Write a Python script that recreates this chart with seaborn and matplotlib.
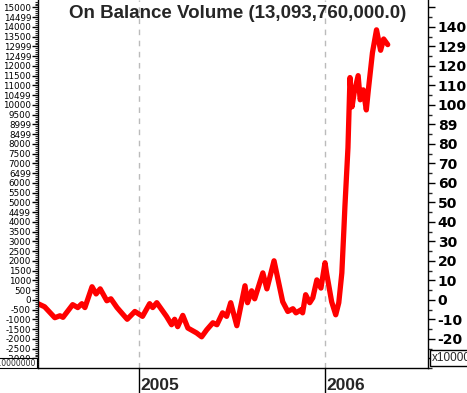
import pandas as pd
import numpy as np
import matplotlib
matplotlib.use("Agg")
import matplotlib.pyplot as plt
import matplotlib.dates as mdates
import matplotlib.transforms as mtransforms
import seaborn as sns

# data (OBV in units of 100,000,000)
dates = ["2004-06-17", "2004-06-30", "2004-07-20", "2004-07-30", "2004-08-05", "2004-08-24",
         "2004-09-03", "2004-09-11", "2004-09-17", "2004-10-01", "2004-10-09", "2004-10-17",
         "2004-10-30", "2004-11-07", "2004-11-19", "2004-12-09", "2004-12-24", "2005-01-08",
         "2005-01-22", "2005-01-28", "2005-02-05", "2005-02-24", "2005-03-06", "2005-03-12",
         "2005-03-18", "2005-03-28", "2005-04-07", "2005-04-24", "2005-05-04", "2005-05-14",
         "2005-05-26", "2005-06-03", "2005-06-14", "2005-06-22", "2005-06-30", "2005-07-12",
         "2005-07-28", "2005-08-02", "2005-08-10", "2005-08-16", "2005-09-01", "2005-09-09",
         "2005-09-23", "2005-10-10", "2005-10-20", "2005-10-30", "2005-11-05", "2005-11-16",
         "2005-11-18", "2005-11-24", "2005-12-02", "2005-12-08", "2005-12-16", "2005-12-24",
         "2006-01-01", "2006-01-04", "2006-01-14", "2006-01-22", "2006-01-28", "2006-02-03",
         "2006-02-07", "2006-02-09", "2006-02-15", "2006-02-17", "2006-02-19", "2006-02-23",
         "2006-02-27", "2006-03-07", "2006-03-11", "2006-03-17", "2006-03-23", "2006-03-27",
         "2006-04-04", "2006-04-12", "2006-04-20", "2006-04-26", "2006-05-04"]
obv = [-2, -3.6, -9.2, -8.2, -9, -2.5,
       -4, -2, -4, 6.7, 3, 5.6,
       -0.5, 0.5, -4, -10, -6, -8.5,
       -2, -4, -1.5, -8.5, -12.8, -10,
       -13.8, -8, -14.5, -17, -19, -15.4,
       -11.8, -12.8, -6.7, -8.5, -1.5, -13.3,
       7.2, -1.5, 4.6, 0.5, 13.8, 5.6,
       20, -1, -6, -4.6, -6.7, -5,
       -6.7, 2.6, -1.5, 1, 10.2, 6,
       19, 13.8, -1, -7.7, -1.5, 13.8,
       36, 47.7, 78, 96, 114, 99,
       106, 115, 102.6, 107.7, 97.4, 107.7,
       126.7, 138.5, 128, 133.8, 130.9]

right_ticks = [-20, -10, 0, 10, 20, 30, 40, 50, 60, 70, 80, 90, 100, 110, 120, 130, 140]
right_labels = ["-20", "-10", "0", "10", "20", "30", "40", "50", "60", "70", "80", "89",
                "100", "110", "120", "129", "140"]
left_ticks = list(range(-3000, 15001, 500))
left_labels = ["-3000", "-2500", "-2000", "-1500", "-1000", "-500", "0", "500", "1000",
               "1500", "2000", "2500", "3000", "3500", "4000", "4499", "5000", "5500",
               "6000", "6499", "7000", "7500", "8000", "8499", "8999", "9500", "10000",
               "10499", "11000", "11500", "12000", "12499", "12999", "13500", "14000",
               "14499", "15000"]
years = ["2005", "2006"]
title = "On Balance Volume (13,093,760,000.0)"

df = pd.DataFrame({"date": pd.to_datetime(dates), "obv": obv})

sns.set_style("white")
plt.rcParams["font.family"] = ["DejaVu Sans"]

fig = plt.figure(figsize=(4.67, 3.93), dpi=100)
ax = fig.add_axes([38/467, 25/393, 390/467, 368/393])
ax2 = ax.twinx()   # left hand scale lives here

sns.lineplot(data=df, x="date", y="obv", ax=ax, color="red", linewidth=3.8,
             estimator=None, sort=False)

ax.set_xlim(pd.Timestamp("2004-06-17"), pd.Timestamp("2006-07-22"))
ax.set_ylim(-34.9, 153.8)
ax.set_xlabel("")
ax.set_ylabel("")

for s in ["left", "right", "bottom"]:
    ax.spines[s].set_visible(True)
    ax.spines[s].set_color("black")
    ax.spines[s].set_linewidth(1)
ax.spines["top"].set_visible(False)

# right hand scale
ax.yaxis.tick_right()
ax.set_yticks(right_ticks + [-30, 150])
ax.set_yticklabels(right_labels + ["", ""], fontweight="bold", fontsize=10)
ax.set_yticks(np.arange(-35, 155, 5), minor=True)
ax.tick_params(axis="y", which="major", direction="out", length=5, width=1, pad=2,
               colors="black", left=False, right=True, labelleft=False, labelright=True)
ax.tick_params(axis="y", which="minor", direction="out", length=3, width=1,
               left=False, right=True)

# months along the bottom
ax.xaxis.set_major_locator(mdates.MonthLocator())
ax.xaxis.set_major_formatter(plt.NullFormatter())
ax.tick_params(axis="x", which="major", direction="out", length=7, width=1, colors="black")

# left hand scale
ax2.set_ylim(-3490, 15380)
ax2.set_yticks(left_ticks)
ax2.set_yticklabels(left_labels, fontsize=6.3)
ax2.set_yticks(np.arange(-3400, 15380, 100), minor=True)
ax2.tick_params(axis="y", which="major", direction="out", length=4, width=1, pad=1,
                colors="black", left=True, right=False, labelleft=True, labelright=False)
ax2.tick_params(axis="y", which="minor", direction="out", length=2, width=0.8,
                left=True, right=False)
for s in ax2.spines.values():
    s.set_visible(False)

# year separators
trans = mtransforms.blended_transform_factory(ax.transData, ax.transAxes)
for yr in years:
    d = mdates.date2num(pd.Timestamp(yr + "-01-01"))
    ax.axvline(d, color="#bbbbbb", linestyle=(0, (4, 4)), linewidth=1, zorder=0)
    ax.plot([d, d], [0, -25/368], color="black", linewidth=1, transform=trans, clip_on=False)
    ax.text(d + 2, -10/368, yr, transform=trans, ha="left", va="top",
            fontsize=12.5, fontweight="bold", family="Liberation Sans")

fig.text(238/467, 1 - 5/393, title, ha="center", va="top", fontsize=13.5,
         fontweight="bold", family="Liberation Sans")

# multiplier boxes
fig.text(432/467, 1 - 358/393, "x100000000", ha="left", va="center", fontsize=8.5,
         family="Liberation Sans",
         bbox=dict(boxstyle="square,pad=0.15", fc="white", ec="black", lw=1))
fig.text(36/467, 1 - 363/393, "x10000000", ha="right", va="center", fontsize=5.5,
         bbox=dict(boxstyle="square,pad=0.1", fc="white", ec="black", lw=0.8))

plt.savefig("out.png", dpi=100)
